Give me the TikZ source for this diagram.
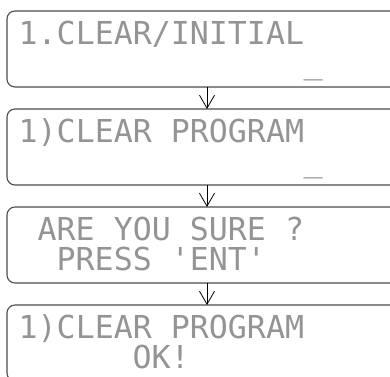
\documentclass[tikz,border=0pt]{standalone}
\usepackage{fontspec}
\newfontfamily\lcdfont{DejaVu Sans Mono}
\usetikzlibrary{arrows.meta}

\begin{document}
\begin{tikzpicture}[
    x=1pt, y=-1pt,
    screen/.style={rectangle, draw=black!70, line width=1.1pt, rounded corners=8pt, minimum width=400pt, minimum height=76pt, inner sep=0pt, outer sep=0pt},
    row/.style={anchor=base west, inner sep=0pt, font=\lcdfont\fontsize{31.6}{32}\selectfont, text=black!42},
    arrow/.style={-{Straight Barb[length=13pt, width=15pt]}, line width=0.8pt}
]
\clip (0,0) rectangle (390,376);

\node[screen] (s1) at (207,49) {};
\node[screen] (s2) at (207,147) {};
\node[screen] (s3) at (207,245) {};
\node[screen] (s4) at (207,343) {};

\node[row] (t1a) at (18.5,44) {1.CLEAR/INITIAL};
\node[row] (t1b) at (303.5,73) {\_};
\node[row] (t2a) at (18.5,142) {1)CLEAR PROGRAM};
\node[row] (t2b) at (303.5,171) {\_};
\node[row] (t3a) at (37.5,240) {ARE YOU SURE ?};
\node[row] (t3b) at (56.5,270) {PRESS 'ENT'};
\node[row] (t4a) at (18.5,338) {1)CLEAR PROGRAM};
\node[row] (t4b) at (132.5,368) {OK!};

\draw[arrow] (s1) -- (s2);
\draw[arrow] (s2) -- (s3);
\draw[arrow] (s3) -- (s4);
\end{tikzpicture}
\end{document}
